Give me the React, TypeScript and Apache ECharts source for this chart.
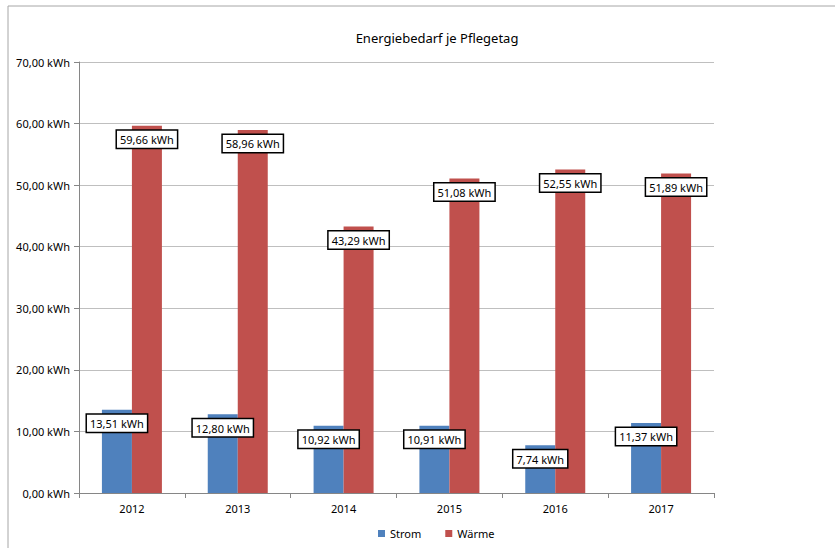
import React, { useEffect, useRef } from "react";
import * as echarts from "echarts";

const years = ["2012", "2013", "2014", "2015", "2016", "2017"];
const strom = [13.51, 12.8, 10.92, 10.91, 7.74, 11.37];
const waerme = [59.66, 58.96, 43.29, 51.08, 52.55, 51.89];
const chartTitle = "Energiebedarf je Pflegetag";

const fmt = (v: number) => v.toFixed(2).replace(".", ",") + " kWh";
const FONT = "Noto Sans";

export default function App() {
  const ref = useRef<HTMLDivElement>(null);
  useEffect(() => {
    if (!ref.current) return;
    const chart = echarts.init(ref.current, undefined, { renderer: "svg" });
    const label = {
      show: true,
      position: "insideTop" as const,
      distance: 5,
      formatter: (p: any) => fmt(p.value),
      color: "#000",
      fontFamily: FONT,
      fontSize: 11,
      lineHeight: 14,
      backgroundColor: "#fff",
      borderColor: "#000",
      borderWidth: 1.5,
      padding: [2, 3, 1, 3],
    };
    chart.setOption({
      animation: false,
      backgroundColor: "#fff",
      textStyle: { fontFamily: FONT },
      graphic: [
        { type: "line", shape: { x1: 8, y1: 6, x2: 835, y2: 6 }, style: { stroke: "#a6a6a6", lineWidth: 1 } },
        { type: "line", shape: { x1: 8, y1: 6, x2: 8, y2: 548 }, style: { stroke: "#a6a6a6", lineWidth: 1 } },
        {
          type: "text",
          x: 437,
          y: 38,
          style: { text: chartTitle, fontFamily: FONT, fontSize: 13, fill: "#000", textAlign: "center", textVerticalAlign: "middle" },
        },
      ],
      legend: {
        bottom: 4,
        left: 373,
        itemWidth: 7,
        itemHeight: 7,
        itemGap: 24,
        icon: "rect",
        textStyle: { fontFamily: FONT, fontSize: 11, color: "#000" },
        data: ["Strom", "Wärme"],
      },
      grid: { left: 79, right: 121, top: 62, bottom: 55 },
      xAxis: {
        type: "category",
        data: years,
        axisLine: { lineStyle: { color: "#868686" } },
        axisTick: { show: true, length: 5, lineStyle: { color: "#868686" } },
        axisLabel: { color: "#000", fontSize: 11, fontFamily: FONT, margin: 10 },
      },
      yAxis: {
        type: "value",
        min: 0,
        max: 70,
        interval: 10,
        axisLine: { show: true, lineStyle: { color: "#868686" } },
        axisTick: { show: true, length: 5, lineStyle: { color: "#868686" } },
        splitLine: { lineStyle: { color: "#bfbfbf" } },
        axisLabel: { color: "#000", fontSize: 11, fontFamily: FONT, margin: 9, formatter: (v: number) => fmt(v) },
      },
      series: [
        {
          name: "Strom",
          type: "bar",
          data: strom,
          barWidth: 30,
          barGap: "0%",
          itemStyle: { color: "#4F81BD" },
          label,
        },
        {
          name: "Wärme",
          type: "bar",
          data: waerme,
          barWidth: 30,
          barGap: "0%",
          itemStyle: { color: "#C0504D" },
          label,
        },
      ],
    });
    return () => chart.dispose();
  }, []);
  return <div ref={ref} style={{ position: "fixed", left: 0, top: 0, width: 835, height: 548 }} />;
}
